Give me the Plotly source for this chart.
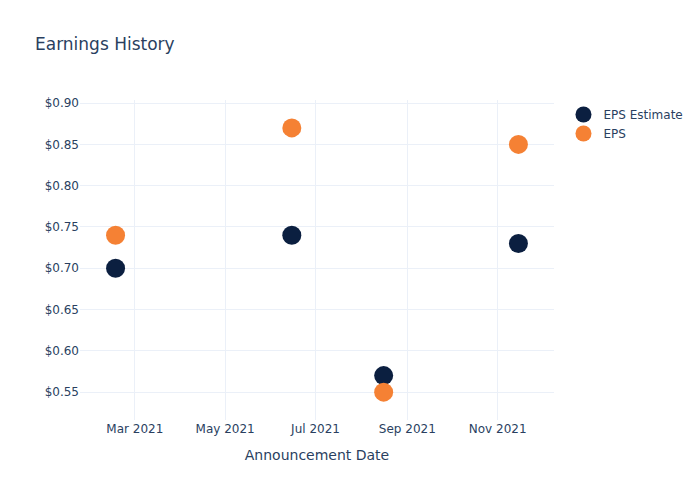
import plotly.graph_objects as go

dates = ["2021-02-16", "2021-06-15", "2021-08-16", "2021-11-15"]
eps_estimate = [0.70, 0.74, 0.57, 0.73]
eps_actual = [0.74, 0.87, 0.55, 0.85]

fig = go.Figure()
fig.add_trace(go.Scatter(x=dates, y=eps_estimate, mode="markers", name="EPS Estimate",
                         marker=dict(color="#0b1f40", size=19)))
fig.add_trace(go.Scatter(x=dates, y=eps_actual, mode="markers", name="EPS",
                         marker=dict(color="#f58134", size=19)))
fig.update_layout(
    template="plotly_white",
    width=700, height=500,
    font=dict(family="DejaVu Sans"),
    title=dict(text="Earnings History"),
    xaxis=dict(title=dict(text="Announcement Date"), tickformat="%b %Y", dtick="M2"),
    yaxis=dict(tickformat="$.2f"),
)
fig.write_html("out.html")
